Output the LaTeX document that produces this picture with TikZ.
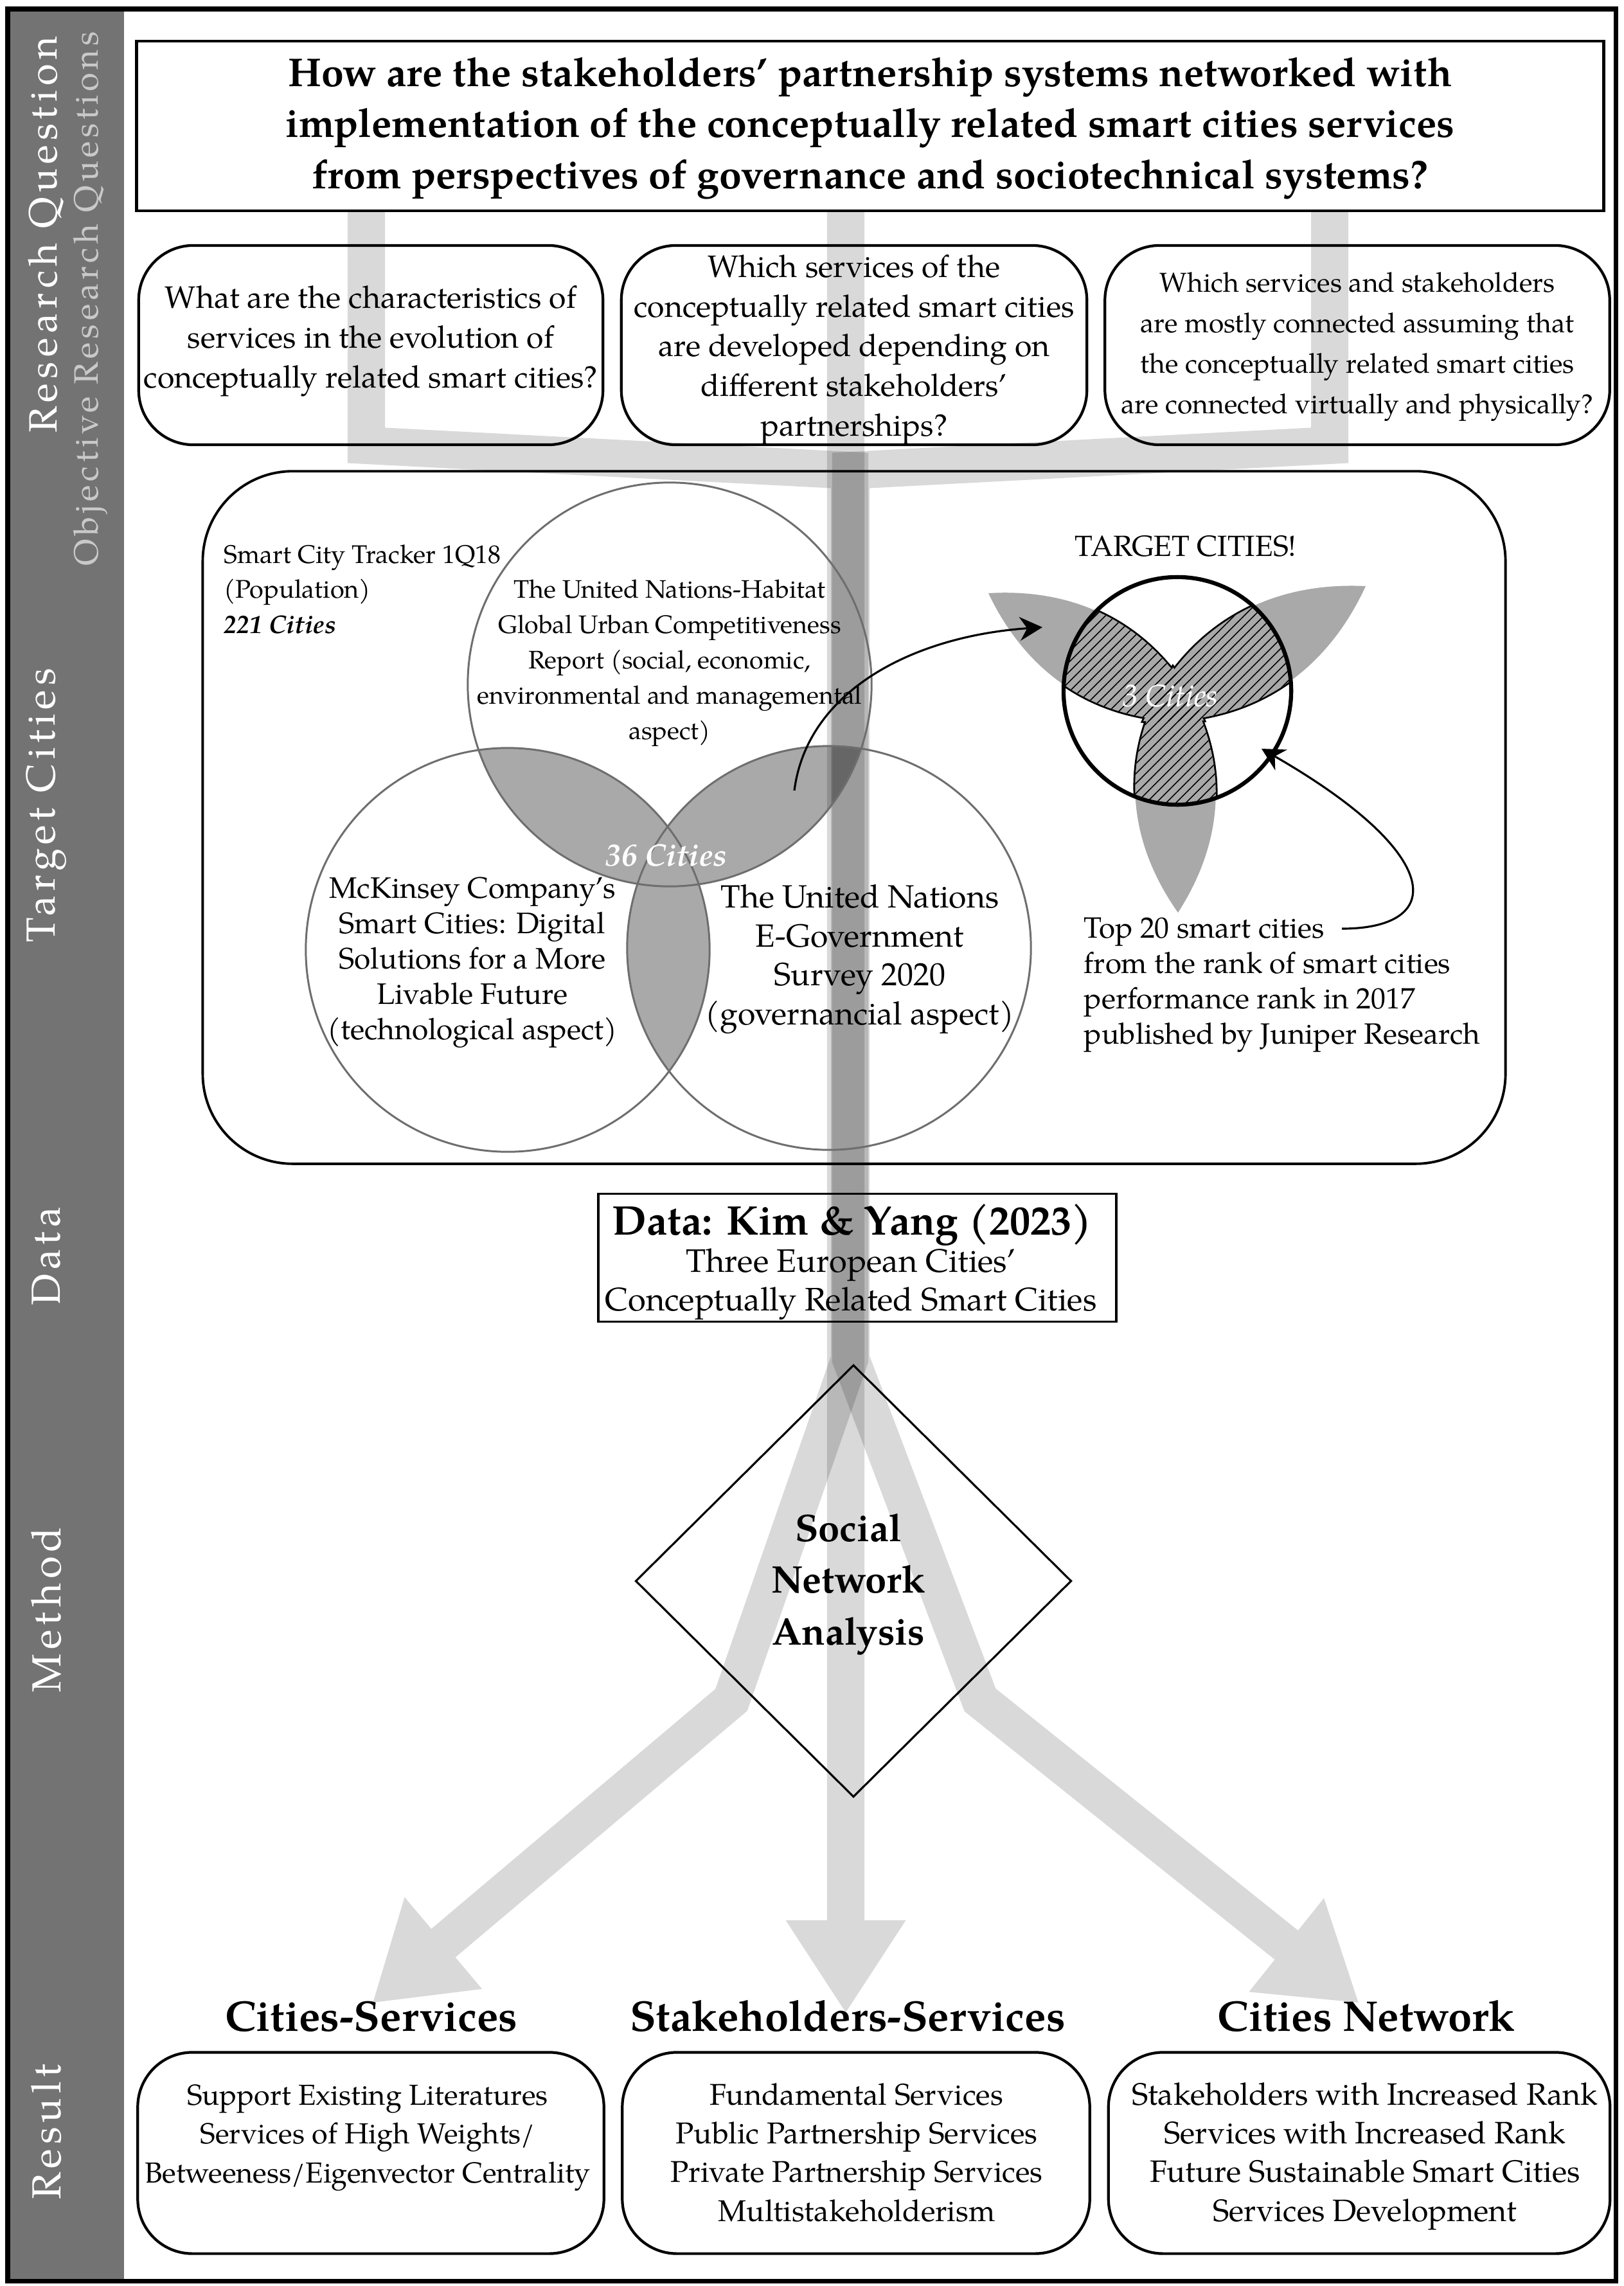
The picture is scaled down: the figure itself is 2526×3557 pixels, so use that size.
\documentclass[tikz,border=0pt]{standalone}
\usepackage{fontspec}
\setmainfont{TeX Gyre Pagella}
\newfontfamily\sidefont[LetterSpace=11]{TeX Gyre Pagella}
\newfontfamily\sidefontwide[LetterSpace=12]{TeX Gyre Pagella}
\newfontfamily\sidefontobj[LetterSpace=11]{TeX Gyre Pagella}
\usetikzlibrary{arrows.meta,patterns.meta,shapes.geometric}
\definecolor{sidebar}{HTML}{737373}
\definecolor{sidelight}{HTML}{C9C9C9}
\definecolor{lensgray}{HTML}{A9A9A9}
\definecolor{ringgray}{HTML}{6E6E6E}
\newcommand{\fsz}[2]{\fontsize{#1}{#2}\selectfont}
\tikzset{
  band/.style={line width=0.58cm, black, line join=miter, miter limit=20,
     -{Triangle[width=1.76cm,length=1.45cm]}},
  qbox/.style={draw, line width=1.2pt, rounded corners=0.85cm, inner sep=0pt, minimum height=3.1cm},
  rbox/.style={draw, line width=1.2pt, rounded corners=0.85cm, inner sep=0pt, minimum height=3.13cm},
  vennring/.style={circle, draw=ringgray, line width=0.85pt, minimum size=6.28cm, inner sep=0pt},
  txt/.style={anchor=base, align=center, inner sep=0pt},
  ltxt/.style={anchor=base west, align=left, inner sep=0pt},
  sidelab/.style={rotate=90, text=white, inner sep=0pt},
  thinarrow/.style={line width=0.9pt, -{Stealth[length=10pt,width=10.5pt]}},
  heading/.style={anchor=base, inner sep=0pt, font=\bfseries\fsz{19}{22}},
  petalline/.style={line width=1.6pt, black},
  hatch/.style={pattern={Lines[angle=45,distance=3.1pt,line width=0.45pt]}, pattern color=black},
}
\newcommand{\petalUL}{(1873,1121) to[bend left=34] (1538,923) to[bend left=34] (1873,1121) -- cycle}
\newcommand{\petalUR}{(1779,1122) to[bend left=34] (2125,912) to[bend left=34] (1779,1122) -- cycle}
\newcommand{\petalBT}{(1825,1038) to[bend left=34] (1833,1420) to[bend left=34] (1825,1038) -- cycle}
\begin{document}
\begin{tikzpicture}[x=0.01cm,y=-0.01cm]
% background and side bar
\fill[white] (0,0) rectangle (2526,3557);
\fill[sidebar] (12,14) rectangle (193,3549);
\node[sidelab, font=\sidefontwide\fsz{17.5}{20}] (lblRQ) at (72,365) {Research Question};
\node[sidelab, text=sidelight, font=\sidefontobj\fsz{15}{18}] (lblORQ) at (141,465) {Objective Research Questions};
\node[sidelab, font=\sidefont\fsz{18}{20}] (lblTC) at (72,1253) {Target Cities};
\node[sidelab, font=\sidefont\fsz{18}{20}] (lblDA) at (72,1955) {Data};
\node[sidelab, font=\sidefont\fsz{18}{20}] (lblME) at (72,2505) {Method};
\node[sidelab, font=\sidefont\fsz{18}{20}] (lblRE) at (72,3317) {Result};

% Venn lens fills
\begin{scope}
  \clip (1042,1065) circle[radius=3.14cm];
  \fill[lensgray] (790,1478) circle[radius=3.14cm];
  \fill[lensgray] (1290,1475) circle[radius=3.14cm];
\end{scope}
\begin{scope}
  \clip (790,1478) circle[radius=3.14cm];
  \fill[lensgray] (1290,1475) circle[radius=3.14cm];
\end{scope}

% petals of the target cities figure
\fill[lensgray] \petalUL;
\fill[lensgray] \petalUR;
\fill[lensgray] \petalBT;
\begin{scope}
  \clip (1832,1075) circle[radius=1.77cm];
  \fill[white] (1832,1075) circle[radius=1.77cm];
  \draw[petalline] \petalUL;
  \draw[petalline] \petalUR;
  \draw[petalline] \petalBT;
  \fill[lensgray] \petalUL;
  \fill[lensgray] \petalUR;
  \fill[lensgray] \petalBT;
  \fill[hatch] \petalUL;
  \fill[hatch] \petalUR;
  \fill[hatch] \petalBT;
\end{scope}
\node[circle, draw, line width=1.8pt, minimum size=3.54cm, inner sep=0pt] (tcircle) at (1832,1075) {};

% coordinates for the broad grey bands
\coordinate (bL0) at (570,328);  \coordinate (bL1) at (570,693);
\coordinate (bL2) at (1322,732); \coordinate (bL3) at (1322,2115);
\coordinate (bL4) at (1138,2645); \coordinate (tipL) at (579,3117);
\coordinate (bM0) at (1316,328); \coordinate (tipM) at (1316,3133);
\coordinate (bR0) at (2069,328); \coordinate (bR1) at (2069,693);
\coordinate (bR2) at (1324,732); \coordinate (bR3) at (1324,2115);
\coordinate (bR4) at (1525,2645); \coordinate (tipR) at (2115,3117);

\begin{scope}[transparency group, opacity=0.15]
  \draw[band] (bL0) -- (bL1) -- (bL2) -- (bL3) -- (bL4) -- (tipL);
\end{scope}
\begin{scope}[transparency group, opacity=0.15]
  \draw[band] (bM0) -- (tipM);
\end{scope}
\begin{scope}[transparency group, opacity=0.15]
  \draw[band] (bR0) -- (bR1) -- (bR2) -- (bR3) -- (bR4) -- (tipR);
\end{scope}

% Venn rings
\node[vennring] (vA) at (1042,1065) {};
\node[vennring] (vB) at (790,1478) {};
\node[vennring] (vC) at (1290,1475) {};

% title
\node[draw, line width=1.3pt, minimum width=22.82cm, minimum height=2.64cm, inner sep=0pt] (titlebox) at (1354,196) {};
\node[txt, font=\bfseries\fsz{17.8}{22.5}] (titletext) at (1354,293)
  {How are the stakeholders’ partnership systems networked with\\
   implementation of the conceptually related smart cities services\\
   from perspectives of governance and sociotechnical systems?};

% objective questions
\node[qbox, minimum width=7.22cm] (q1) at (577,537) {};
\node[qbox, minimum width=7.24cm] (q2) at (1329,537) {};
\node[qbox, minimum width=7.85cm] (q3) at (2112,537) {};
\node[txt, font=\fsz{13.7}{17.6}] (q1t) at (577,603)
  {What are the characteristics of\\services in the evolution of\\conceptually related smart cities?};
\node[txt, font=\fsz{13.7}{17.5}] (q2t) at (1329,678)
  {Which services of the\\conceptually related smart cities\\are developed depending on\\different stakeholders’\\partnerships?};
\node[txt, font=\fsz{12.1}{17.9}] (q3t) at (2112,643)
  {Which services and stakeholders\\are mostly connected assuming that\\the conceptually related smart cities\\are connected virtually and physically?};

% target cities box
\node[draw, line width=1.1pt, rounded corners=1.4cm, minimum width=20.26cm, minimum height=10.77cm, inner sep=0pt] (tcbox) at (1329,1272) {};
\node[ltxt, font=\fsz{11.3}{15.4}] (tracker) at (348,985)
  {Smart City Tracker 1Q18\\(Population)\\\textbf{\textit{221 Cities}}};
\node[txt, font=\fsz{11.2}{15.6}] (vAt) at (1042,1150)
  {The United Nations-Habitat\\Global Urban Competitiveness\\Report (social, economic,\\environmental and managemental\\aspect)};
\node[txt, font=\fsz{13.1}{15.6}] (vBt) at (735,1617)
  {McKinsey Company’s\\Smart Cities: Digital\\Solutions for a More\\Livable Future\\(technological aspect)};
\node[txt, font=\fsz{14.2}{17.2}] (vCt) at (1338,1594)
  {The United Nations\\E-Government\\Survey 2020\\(governancial aspect)};
\node[txt, text=white, font=\bfseries\itshape\fsz{13.8}{16}] (c36) at (1037,1347) {36 Cities};
\node[txt, font=\fsz{12.9}{15}] (target) at (1845,865) {TARGET CITIES!};
\node[txt, text=white, font=\itshape\fsz{13.8}{16}] (c3) at (1821,1099) {3 Cities};
\node[ltxt, font=\fsz{13}{15.6}] (top20) at (1686,1624)
  {Top 20 smart cities\\from the rank of smart cities\\performance rank in 2017\\published by Juniper Research};

% curved arrows
\coordinate (a1s) at (1236,1230); \coordinate (a1e) at (1622,976);
\draw[thinarrow] (a1s) .. controls (1256,1075) and (1420,990) .. (a1e);
\coordinate (a2s) at (2088,1445); \coordinate (a2e) at (1963,1165);
\draw[thinarrow] (a2s) .. controls (2250,1445) and (2250,1330) .. (a2e);

% data
\node[draw, line width=1pt, minimum width=8.06cm, minimum height=1.99cm, inner sep=0pt] (databox) at (1334,1957) {};
\node[txt, font=\bfseries\fsz{18.3}{20}] (datat) at (1326,1921) {Data: Kim \& Yang (2023)};
\node[txt, font=\fsz{14.4}{16.8}] (datas) at (1324,2039) {Three European Cities’\\Conceptually Related Smart Cities};

% method
\node[diamond, draw, line width=0.9pt, minimum width=6.78cm, minimum height=6.72cm, inner sep=0pt] (sna) at (1328,2460) {};
\node[txt, font=\bfseries\fsz{17}{22.8}] (snat) at (1320,2559) {Social\\Network\\Analysis};

% results
\node[heading] (hCS) at (578,3160) {Cities-Services};
\node[heading] (hSS) at (1319,3160) {Stakeholders-Services};
\node[heading] (hCN) at (2126,3160) {Cities Network};
\node[rbox, minimum width=7.25cm] (r1) at (577,3350) {};
\node[rbox, minimum width=7.27cm] (r2) at (1332,3350) {};
\node[rbox, minimum width=7.80cm] (r3) at (2115,3350) {};
\node[txt, font=\fsz{12.8}{17.1}] (r1t) at (572,3396)
  {Support Existing Literatures\\Services of High Weights/\\Betweeness/Eigenvector Centrality};
\node[txt, font=\fsz{13.3}{17.1}] (r2t) at (1333,3456)
  {Fundamental Services\\Public Partnership Services\\Private Partnership Services\\Multistakeholderism};
\node[txt, font=\fsz{13.7}{17.1}] (r3t) at (2124,3456)
  {Stakeholders with Increased Rank\\Services with Increased Rank\\Future Sustainable Smart Cities\\Services Development};

% outer frame
\draw[line width=2pt] (12,14) rectangle (2514,3549);
\end{tikzpicture}
\end{document}
